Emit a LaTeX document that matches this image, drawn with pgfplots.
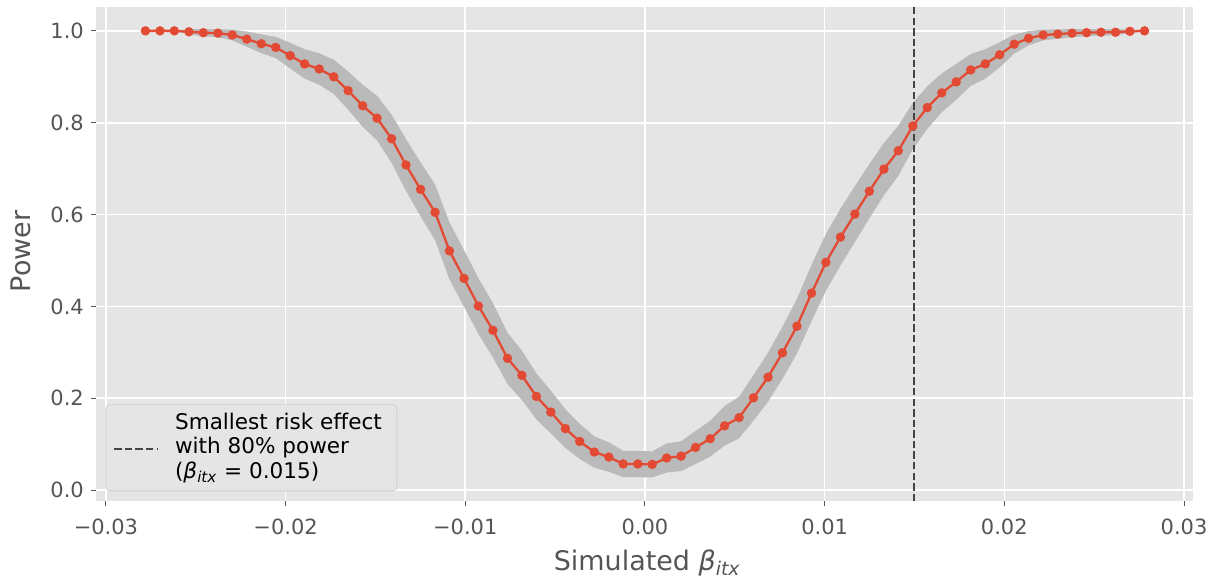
\documentclass[border=0pt]{standalone}
\usepackage{pgfplots}
\pgfplotsset{compat=1.18}
\usepackage{pgfplotstable}
\usepgfplotslibrary{fillbetween}
\usepackage{fontspec}
\setmainfont{DejaVu Sans}
\definecolor{bg}{RGB}{229,229,229}
\definecolor{band}{RGB}{186,186,186}
\definecolor{ggred}{RGB}{226,74,51}
\definecolor{lab}{RGB}{85,85,85}
\definecolor{vline}{RGB}{68,68,68}
\definecolor{legedge}{RGB}{208,208,208}

\pgfplotstableread{
x p lo hi
-0.02780 1.000 1.0000 1.0000
-0.02699 1.000 1.0000 1.0000
-0.02619 1.000 1.0000 1.0000
-0.02538 0.998 0.9925 1.0035
-0.02458 0.996 0.9882 1.0038
-0.02377 0.995 0.9863 1.0037
-0.02297 0.991 0.9793 1.0027
-0.02216 0.982 0.9655 0.9985
-0.02135 0.972 0.9515 0.9925
-0.02055 0.964 0.9409 0.9871
-0.01974 0.946 0.9180 0.9740
-0.01894 0.928 0.8959 0.9601
-0.01813 0.917 0.8828 0.9512
-0.01732 0.900 0.8628 0.9372
-0.01652 0.870 0.8283 0.9117
-0.01571 0.837 0.7912 0.8828
-0.01491 0.810 0.7614 0.8586
-0.01410 0.765 0.7124 0.8176
-0.01330 0.708 0.6516 0.7644
-0.01249 0.655 0.5961 0.7139
-0.01168 0.605 0.5444 0.6656
-0.01088 0.521 0.4591 0.5829
-0.01007 0.461 0.3992 0.5228
-0.00927 0.401 0.3402 0.4618
-0.00846 0.348 0.2889 0.4071
-0.00765 0.287 0.2309 0.3431
-0.00685 0.250 0.1963 0.3037
-0.00604 0.204 0.1540 0.2540
-0.00524 0.170 0.1234 0.2166
-0.00443 0.134 0.0918 0.1762
-0.00363 0.106 0.0678 0.1442
-0.00282 0.083 0.0488 0.1172
-0.00201 0.072 0.0399 0.1041
-0.00121 0.057 0.0283 0.0857
-0.00040 0.057 0.0283 0.0857
0.00040 0.056 0.0275 0.0845
0.00121 0.070 0.0384 0.1016
0.00201 0.074 0.0415 0.1065
0.00282 0.093 0.0570 0.1290
0.00363 0.112 0.0729 0.1511
0.00443 0.140 0.0970 0.1830
0.00524 0.158 0.1128 0.2032
0.00604 0.201 0.1513 0.2507
0.00685 0.246 0.1926 0.2994
0.00765 0.299 0.2422 0.3558
0.00846 0.357 0.2976 0.4164
0.00927 0.429 0.3676 0.4904
0.01007 0.496 0.4340 0.5580
0.01088 0.551 0.4893 0.6127
0.01168 0.601 0.5403 0.6617
0.01249 0.651 0.5919 0.7101
0.01330 0.699 0.6421 0.7559
0.01410 0.739 0.6845 0.7935
0.01491 0.793 0.7428 0.8432
0.01571 0.833 0.7867 0.8793
0.01652 0.865 0.8226 0.9074
0.01732 0.889 0.8500 0.9280
0.01813 0.915 0.8804 0.9496
0.01894 0.928 0.8959 0.9601
0.01974 0.948 0.9205 0.9755
0.02055 0.971 0.9502 0.9918
0.02135 0.984 0.9684 0.9996
0.02216 0.991 0.9793 1.0027
0.02297 0.993 0.9827 1.0033
0.02377 0.995 0.9863 1.0037
0.02458 0.996 0.9882 1.0038
0.02538 0.997 0.9902 1.0038
0.02619 0.997 0.9902 1.0038
0.02699 0.999 0.9951 1.0029
0.02780 1.000 1.0000 1.0000
}\powerdata

\pgfplotsset{
  dashlegend/.style={legend image code/.code={%
    \path[draw=none] (-4.15pt,-0.6pt) -- (30.5pt,-0.6pt);
    \draw[##1] (0pt,-0.6pt) -- (21.5pt,-0.6pt);}},
}

\begin{document}
\begin{tikzpicture}
\begin{axis}[
  at={(0pt,0pt)}, anchor=south west,
  scale only axis, width=549.5pt, height=247.5pt,
  xmin=-0.03056, xmax=0.0305, ymin=-0.024, ymax=1.052,
  axis background/.style={fill=bg},
  axis line style={draw=none},
  xtick={-0.03,-0.02,-0.01,0,0.01,0.02,0.03},
  xticklabels={−0.03,−0.02,−0.01,0.00,0.01,0.02,0.03},
  ytick={0,0.2,0.4,0.6,0.8,1.0},
  yticklabels={0.0,0.2,0.4,0.6,0.8,1.0},
  scaled x ticks=false,
  tick align=outside, xtick pos=bottom, ytick pos=left,
  major tick length=2.5pt,
  tick style={draw=lab, line width=0.5pt},
  grid=major, major grid style={white, line width=0.8pt},
  ticklabel style={font=\fontsize{10.5}{12}\selectfont, text=lab},
  xticklabel style={yshift=-3pt},
  xlabel={Simulated {\itshape β}\textsubscript{\itshape itx}},
  ylabel={Power},
  label style={font=\fontsize{13.5}{16}\selectfont, text=lab},
  xlabel style={at={(axis description cs:0.5026,-0.1408)}, anchor=base},
  ylabel style={at={(axis description cs:-0.0679,0.5057)}, anchor=center},
  legend cell align=left,
  legend style={at={(axis description cs:0.0088,0.020)}, anchor=south west,
    draw=legedge, fill=bg, rounded corners=2pt,
    font=\fontsize{10.8}{12.15}\selectfont, text=black,
    inner sep=0pt, column sep=0pt, nodes={inner sep=0pt, text depth=}},
]
\addplot[name path=up, draw=none, forget plot] table[x=x, y=hi] {\powerdata};
\addplot[name path=lo, draw=none, forget plot] table[x=x, y=lo] {\powerdata};
\addplot[fill=band, draw=none, forget plot] fill between[of=up and lo];
\addplot[ggred, line width=1.15pt, mark=*, mark size=1.75pt,
  mark options={fill=ggred, draw=ggred}, forget plot] table[x=x, y=p] {\powerdata};
\addplot[vline, line width=1pt, dash pattern=on 3.7pt off 1.6pt, dashlegend]
  coordinates {(0.015,-0.024) (0.015,1.052)};
\addlegendentry{\begin{tabular}{@{}l@{\hspace{7.5pt}}}\rule{0pt}{12.5pt}Smallest risk effect\\with 80\% power\\\rule[-6.35pt]{0pt}{6.35pt}({\itshape β}\textsubscript{\itshape itx} = 0.015)\end{tabular}}
\end{axis}
\path (-48pt,-37.5pt) rectangle (559pt,251pt);
\end{tikzpicture}
\end{document}
